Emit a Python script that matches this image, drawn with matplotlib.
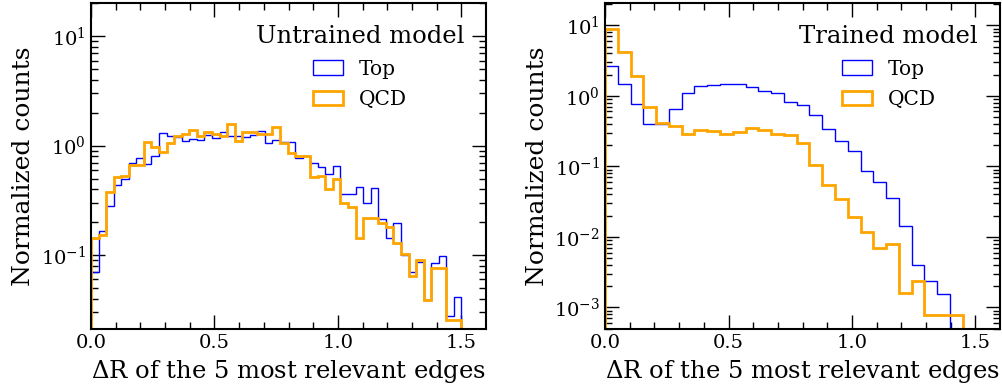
import numpy as np
import matplotlib
matplotlib.use("Agg")
import matplotlib.pyplot as plt

plt.rcParams['font.family'] = 'DejaVu Serif'
plt.rcParams['mathtext.fontset'] = 'dejavuserif'

# bin edges (Delta R)
edges_untrained = np.linspace(0, 1.5, 50)
edges_trained = np.linspace(0, 1.5, 30)

# normalized counts per bin
untrained_top = [0.070, 0.167, 0.281, 0.436, 0.50, 0.70, 0.777, 0.68, 0.805, 1.30,
                 1.22, 1.21, 1.10, 1.14, 1.13, 1.24, 1.17, 1.32, 1.23, 1.23,
                 1.21, 1.25, 1.36, 1.06, 1.13, 1.07, 1.07, 0.777, 0.805, 0.70,
                 0.643, 0.55, 0.656, 0.361, 0.361, 0.416, 0.297, 0.407, 0.212, 0.142,
                 0.195, 0.100, 0.0705, 0.087, 0.039, 0.084, 0.0986, 0.0277, 0.0416]
untrained_qcd = [0.142, 0.152, 0.379, 0.52, 0.528, 0.665, 0.665, 1.09, 0.966, 0.87,
                 1.05, 1.23, 1.27, 1.39, 1.23, 1.32, 1.28, 1.23, 1.57, 1.10,
                 1.32, 1.34, 1.28, 1.28, 1.49, 1.05, 0.85, 0.805, 0.805, 0.52,
                 0.528, 0.398, 0.492, 0.297, 0.273, 0.144, 0.219, 0.219, 0.195, 0.182,
                 0.130, 0.102, 0.0647, 0.090, 0.0389, 0.077, 0.077, 0.0258, 0.0258]

trained_top = [2.67, 1.45, 0.77, 0.393, 0.40, 0.66, 1.08, 1.37, 1.42, 1.48,
               1.48, 1.34, 1.18, 1.08, 0.805, 0.738, 0.538, 0.344, 0.228, 0.166,
               0.0855, 0.0604, 0.0358, 0.0142, 0.00397, 0.00236, 0.00157]
trained_qcd = [9.0, 4.2, 1.92, 0.70, 0.414, 0.375, 0.292, 0.326, 0.319, 0.286,
               0.312, 0.348, 0.33, 0.292, 0.277, 0.211, 0.106, 0.0553, 0.035, 0.0192,
               0.0118, 0.00706, 0.00787, 0.00161, 0.00236, 0.000792, 0.000792, 0.000792]

panels = [
    {"edges": edges_untrained, "top": untrained_top, "qcd": untrained_qcd,
     "title": "Untrained model", "ylim": (0.021, 20)},
    {"edges": edges_trained, "top": trained_top, "qcd": trained_qcd,
     "title": "Trained model", "ylim": (4.9e-4, 20.5)},
]

fig = plt.figure(figsize=(10.03, 3.89), dpi=100)
axes = [fig.add_axes([0.0907, 0.1535, 0.394, 0.838]),
        fig.add_axes([0.6032, 0.1535, 0.394, 0.838])]

for ax, p in zip(axes, panels):
    e = p["edges"]
    top = np.array(p["top"])
    qcd = np.array(p["qcd"])
    e_top = e[:len(top) + 1]
    e_qcd = e[:len(qcd) + 1]
    ax.hist(0.5 * (e_top[:-1] + e_top[1:]), bins=e_top, weights=top,
            histtype='step', color='blue', lw=1.0, label='Top')
    ax.hist(0.5 * (e_qcd[:-1] + e_qcd[1:]), bins=e_qcd, weights=qcd,
            histtype='step', color='orange', lw=2.0, label='QCD')
    ax.set_yscale('log')
    ax.set_xlim(0, 1.6)
    ax.set_ylim(*p["ylim"])
    ax.set_xticks([0.0, 0.5, 1.0, 1.5])
    ax.set_xticks(np.arange(0.1, 1.6, 0.1), minor=True)
    ax.tick_params(which='both', direction='in', top=True, right=True, labelsize=14)
    ax.tick_params(which='major', length=10, width=1.0)
    ax.tick_params(which='minor', length=5, width=1.0)
    for s in ax.spines.values():
        s.set_linewidth(1.5)
    ax.set_xlabel(r'$\Delta$R of the 5 most relevant edges', fontsize=17.5)
    ax.set_ylabel('Normalized counts', fontsize=18)
    leg = ax.legend(title=p["title"], loc='upper right', frameon=False,
                    fontsize=14.5, title_fontsize=17.5, handlelength=1.5,
                    borderaxespad=0.7, labelspacing=0.55)

fig.savefig('out.png', dpi=100)
